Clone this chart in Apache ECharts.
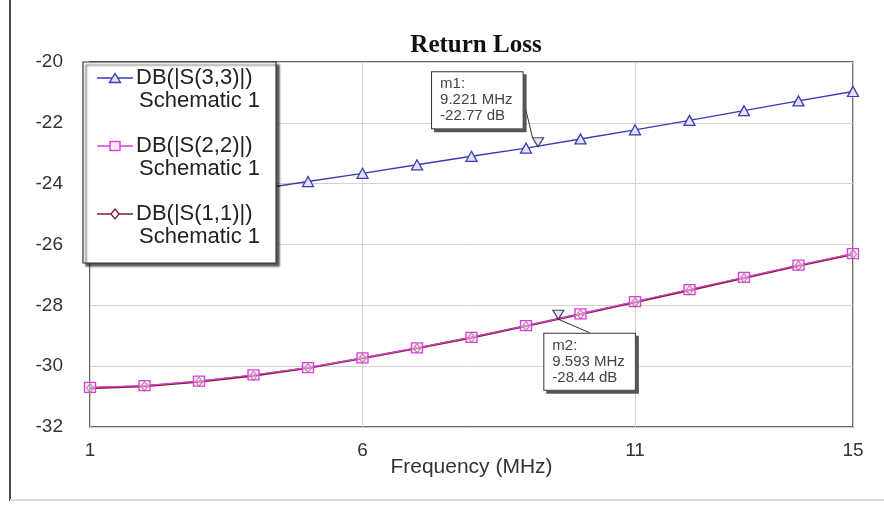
<!DOCTYPE html>
<html>
<head>
<meta charset="utf-8">
<script src="https://cdn.jsdelivr.net/npm/echarts@6/dist/echarts.min.js"></script>
<style>
html,body{margin:0;padding:0;background:#fff;}
#chart{width:884px;height:505px;}
</style>
</head>
<body>
<div id="chart"></div>
<script>
// ---- data ----
const freqMHz = [1, 2, 3, 4, 5, 6, 7, 8, 9, 10, 11, 12, 13, 14, 15];
const s33 = [-24.95, -24.72, -24.47, -24.20, -23.93, -23.66, -23.38, -23.10, -22.83, -22.53, -22.23, -21.92, -21.60, -21.28, -20.97];
const s22 = [-30.70, -30.64, -30.49, -30.29, -30.05, -29.73, -29.40, -29.05, -28.67, -28.28, -27.88, -27.48, -27.08, -26.68, -26.30];
const s11 = [-30.72, -30.66, -30.51, -30.31, -30.06, -29.74, -29.41, -29.06, -28.68, -28.29, -27.90, -27.50, -27.10, -26.70, -26.32];
const seriesNames = ['DB(|S(3,3)|)', 'DB(|S(2,2)|)', 'DB(|S(1,1)|)'];
const legendSub = 'Schematic 1';
const xTickValues = [1, 6, 11, 15];
const markerNames = ['m1', 'm2'];
const markerFreq = [9.221, 9.593];
const markerDb = [-22.77, -28.44];

const colors = ['#3b3bb5', '#d93fd9', '#7a1f2e'];
const FONT = "'Liberation Sans', Arial, sans-serif";

function pairs(ys) { return freqMHz.map((f, i) => [f, ys[i]]); }

function iconUrl(kind, color) {
  let shape = '';
  if (kind === 'tri') shape = `<polygon points='18,2.5 12.5,11.5 23.5,11.5' fill='#dfe0f5' stroke='${color}' stroke-width='1.4'/>`;
  if (kind === 'sq') shape = `<rect x='13' y='2.5' width='10' height='9' fill='#fbe6fb' stroke='${color}' stroke-width='1.4'/>`;
  if (kind === 'dia') shape = `<polygon points='18,2 22,7 18,12 14,7' fill='#fff' stroke='${color}' stroke-width='1.3'/>`;
  const svg = `<svg xmlns='http://www.w3.org/2000/svg' width='36' height='14'><line x1='0' y1='7' x2='36' y2='7' stroke='${color}' stroke-width='1.5'/>${shape}</svg>`;
  return 'data:image/svg+xml;charset=utf-8,' + encodeURIComponent(svg);
}
const iconKinds = ['tri', 'sq', 'dia'];

const rich = {
  a: { fontSize: 22, lineHeight: 23, fontFamily: FONT, color: '#222', padding: [0, 0, 0, 3] },
  b: { fontSize: 22, lineHeight: 23, fontFamily: FONT, color: '#222', padding: [0, 0, 0, 42] }
};
iconKinds.forEach((k, i) => {
  rich['i' + i] = { width: 36, height: 14, verticalAlign: 'middle', backgroundColor: { image: iconUrl(k, colors[i]) } };
});

const chart = echarts.init(document.getElementById('chart'), null, { renderer: 'canvas' });

const option = {
  backgroundColor: '#fff',
  animation: false,
  title: {
    text: 'Return Loss',
    left: 471,
    textAlign: 'center',
    top: 28,
    textStyle: { fontFamily: "'Liberation Serif', 'Times New Roman', serif", fontWeight: 'bold', fontSize: 25, color: '#111' }
  },
  legend: {
    data: seriesNames,
    orient: 'vertical',
    left: 83,
    top: 62,
    itemWidth: 0,
    itemHeight: 0,
    itemGap: 23,
    padding: [5, 16, 15, 8],
    selectedMode: false,
    backgroundColor: '#fff',
    borderColor: '#333',
    borderWidth: 1.2,
    shadowColor: 'rgba(0,0,0,0.65)',
    shadowOffsetX: 3,
    shadowOffsetY: 3,
    shadowBlur: 2,
    formatter: function (name) {
      const i = seriesNames.indexOf(name);
      return `{i${i}|}{a|${name}}\n{b|${legendSub}}`;
    },
    textStyle: { rich: rich, fontFamily: FONT, fontSize: 22, color: '#222' }
  },
  grid: {
    left: 90, right: 31, top: 62, bottom: 78,
    show: true,
    backgroundColor: '#fff',
    borderColor: '#3a3a3a',
    borderWidth: 1.5
  },
  xAxis: {
    type: 'value',
    min: 1,
    max: 15,
    name: 'Frequency (MHz)',
    nameLocation: 'middle',
    nameGap: 30,
    nameMoveOverlap: false,
    nameTextStyle: { fontFamily: FONT, fontSize: 21, color: '#333' },
    axisLine: { show: false },
    axisTick: { show: false, customValues: xTickValues },
    axisLabel: { customValues: xTickValues, fontFamily: FONT, fontSize: 19, color: '#333', margin: 14 },
    splitLine: { show: true, lineStyle: { color: '#d2d2d2', width: 1 } }
  },
  yAxis: {
    type: 'value',
    min: -32,
    max: -20,
    interval: 2,
    axisLine: { show: false },
    axisTick: { show: false },
    axisLabel: { fontFamily: FONT, fontSize: 19, color: '#333', margin: 27 },
    splitLine: { show: true, lineStyle: { color: '#d2d2d2', width: 1 } }
  },
  series: [
    {
      name: seriesNames[0], type: 'line', data: pairs(s33), z: 3,
      symbol: 'triangle', symbolSize: [11, 10], showSymbol: true,
      itemStyle: { color: '#e2e3f6', borderColor: colors[0], borderWidth: 1.3 },
      lineStyle: { color: colors[0], width: 1.4 }
    },
    {
      name: seriesNames[1], type: 'line', data: pairs(s22), z: 4,
      symbol: 'rect', symbolSize: [11, 10], showSymbol: true,
      itemStyle: { color: 'rgba(250,220,250,0.5)', borderColor: colors[1], borderWidth: 1.3 },
      lineStyle: { color: colors[1], width: 1.2 }
    },
    {
      name: seriesNames[2], type: 'line', data: pairs(s11), z: 3,
      symbol: 'diamond', symbolSize: [7, 9], showSymbol: true,
      itemStyle: { color: 'rgba(255,255,255,0)', borderColor: colors[2], borderWidth: 1.1 },
      lineStyle: { color: colors[2], width: 2.2 }
    },
    {
      name: 'markers', type: 'scatter', z: 6,
      data: markerFreq.map((f, i) => [f, markerDb[i], markerNames[i]]),
      symbol: 'triangle', symbolRotate: 180, symbolSize: [11, 9], symbolOffset: [0, -4],
      itemStyle: { color: '#dfe0f0', borderColor: '#1c1c50', borderWidth: 1.2 },
      emphasis: { disabled: true },
      label: {
        show: true,
        position: 'inside',
        formatter: p => `${p.value[2]}:\n${p.value[0].toFixed(3)} MHz\n${p.value[1].toFixed(2)} dB`,
        fontFamily: FONT, fontSize: 15, lineHeight: 16, color: '#444', align: 'left',
        backgroundColor: '#ffffff', borderColor: '#333', borderWidth: 1,
        padding: [4, 10, 4, 8],
        opacity: 1,
        shadowColor: '#555', shadowOffsetX: 3, shadowOffsetY: 3, shadowBlur: 0
      },
      labelLine: { show: true, lineStyle: { color: '#333', width: 1 } },
      labelLayout: function (params) {
        return params.dataIndex === 0 ? { dx: -106, dy: -42 } : { dx: -14, dy: 47 };
      }
    }
  ],
  graphic: [
    { type: 'line', z: 100, shape: { x1: 10, y1: 0, x2: 10, y2: 501 }, style: { stroke: '#4a4a4a', lineWidth: 2 } },
    { type: 'line', z: 100, shape: { x1: 10, y1: 500, x2: 884, y2: 500 }, style: { stroke: '#dcdcdc', lineWidth: 2 } }
  ]
};
chart.setOption(option);
</script>
</body>
</html>
